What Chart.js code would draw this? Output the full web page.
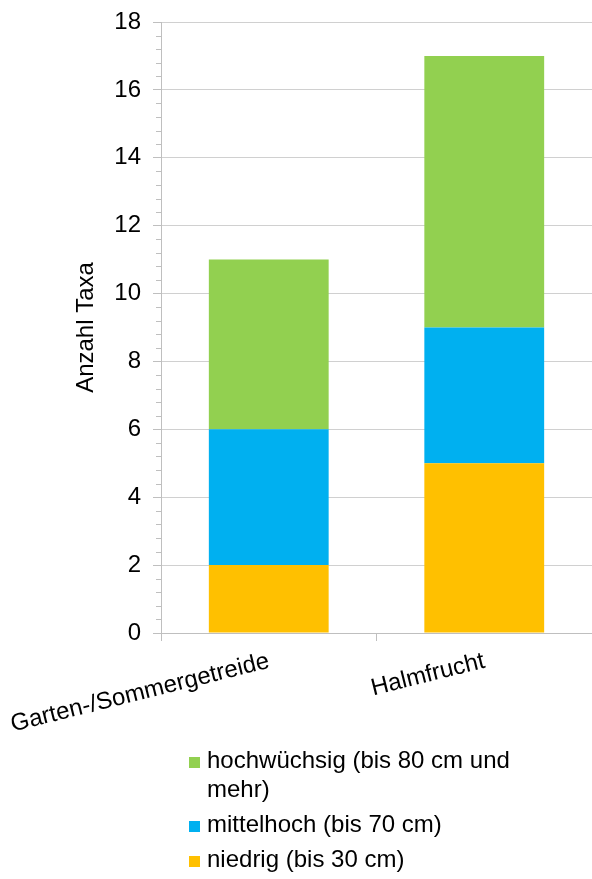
<!DOCTYPE html>
<html lang="de">
<head>
<meta charset="utf-8">
<title>Anzahl Taxa nach Wuchshöhe</title>
<script src="https://cdn.jsdelivr.net/npm/chart.js@4/dist/chart.umd.min.js"></script>
<style>
  html, body { margin: 0; padding: 0; background: #fff; }
  #wrap { position: relative; width: 592px; height: 879px; }
  #legende { position: absolute; left: 189px; top: 745px; font: 24px 'Liberation Sans', Arial, sans-serif; color: #000; }
  .eintrag { position: relative; padding-left: 18px; line-height: 29px; }
  .eintrag .box { position: absolute; left: 0; top: 12px; width: 11px; height: 11px; }
</style>
</head>
<body>
<div id="wrap">
  <canvas id="grafico" width="592" height="879"></canvas>
  <div id="legende"></div>
</div>
<script>
// Kategorien und Werte (Anzahl Taxa)
const kategorien = ['Garten-/Sommergetreide', 'Halmfrucht'];
const niedrig = [2, 5];
const mittelhoch = [4, 4];
const hochwuechsig = [5, 8];

const serienNamen = ['niedrig (bis 30 cm)', 'mittelhoch (bis 70 cm)', 'hochwüchsig (bis 80 cm und mehr)'];
const serienFarben = ['#ffc000', '#00b0f0', '#92d050'];

const yMax = 18;
const ySchritt = 2;
const yNebenSchritt = 0.4;

const schrift = "'Liberation Sans', Arial, sans-serif";
const achsenFarbe = '#bfbfbf';
const gitterFarbe = '#d0d0d0';

// kleine Hilfsstriche an der y-Achse
const nebenStriche = {
  id: 'nebenStriche',
  afterDraw(chart) {
    const y = chart.scales.y;
    const ctx = chart.ctx;
    const anzahl = Math.round(yMax / yNebenSchritt);
    const proHaupt = Math.round(ySchritt / yNebenSchritt);
    ctx.save();
    ctx.strokeStyle = achsenFarbe;
    ctx.lineWidth = 1;
    ctx.beginPath();
    for (let i = 0; i <= anzahl; i++) {
      if (i % proHaupt === 0) continue;
      const p = Math.round(y.getPixelForValue(i * yNebenSchritt)) + 0.5;
      ctx.moveTo(y.right - 5, p);
      ctx.lineTo(y.right, p);
    }
    ctx.stroke();
    ctx.restore();
  }
};

const daten = [niedrig, mittelhoch, hochwuechsig];

new Chart(document.getElementById('grafico'), {
  type: 'bar',
  data: {
    labels: kategorien,
    datasets: daten.map((werte, i) => ({
      label: serienNamen[i],
      data: werte,
      backgroundColor: serienFarben[i],
      borderWidth: 0,
      categoryPercentage: 1,
      barPercentage: 0.556
    }))
  },
  options: {
    responsive: false,
    animation: false,
    layout: { padding: { top: 22, right: 0, bottom: 136, left: 0 } },
    plugins: {
      legend: { display: false },
      tooltip: { enabled: false }
    },
    scales: {
      x: {
        stacked: true,
        afterFit: (s) => {
          s.height = 110;
          s.paddingLeft = 0;
          s.paddingRight = 0;
        },
        border: { color: achsenFarbe },
        grid: { drawOnChartArea: false, drawTicks: true, tickLength: 8, color: achsenFarbe },
        ticks: {
          color: '#000',
          font: { family: schrift, size: 24 },
          minRotation: 14,
          maxRotation: 14,
          padding: 6,
          autoSkip: false
        }
      },
      y: {
        stacked: true,
        min: 0,
        max: yMax,
        afterFit: (s) => {
          s.width = 161;
          s.paddingTop = 0;
          s.paddingBottom = 0;
        },
        border: { color: achsenFarbe },
        grid: { color: gitterFarbe, tickColor: achsenFarbe, tickLength: 8 },
        ticks: {
          stepSize: ySchritt,
          color: '#000',
          font: { family: schrift, size: 24 },
          padding: 12
        },
        title: {
          display: true,
          text: 'Anzahl Taxa',
          color: '#000',
          font: { family: schrift, size: 24 },
          padding: { top: 72, bottom: 0 }
        }
      }
    }
  },
  plugins: [nebenStriche]
});

// Legende, oberster Stapel zuerst
const legende = document.getElementById('legende');
const abstaende = [0, 6, 6];
[2, 1, 0].forEach((i, n) => {
  const el = document.createElement('div');
  el.className = 'eintrag';
  el.style.marginTop = abstaende[n] + 'px';
  el.style.width = '330px';
  const box = document.createElement('span');
  box.className = 'box';
  box.style.background = serienFarben[i];
  el.appendChild(box);
  el.appendChild(document.createTextNode(serienNamen[i]));
  legende.appendChild(el);
});
</script>
</body>
</html>
